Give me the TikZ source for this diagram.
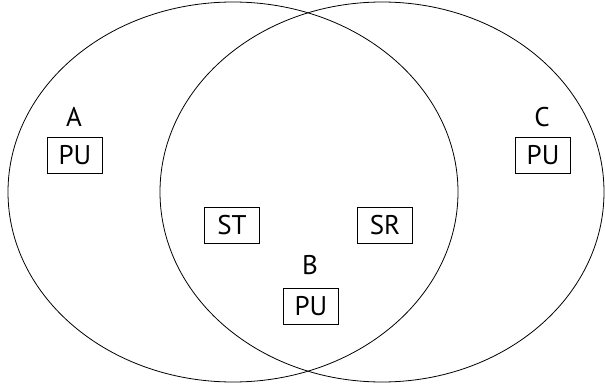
\documentclass[tikz,border=0pt]{standalone}
\usepackage{fontspec}
\setmainfont{PT Sans}
\usepackage{tikz}

\tikzset{
  unit/.style={draw, line width=0.7pt, minimum width=55pt, minimum height=36pt, inner sep=0pt, font=\fontsize{27}{30}\selectfont},
  tag/.style={inner sep=0pt, font=\fontsize{27}{30}\selectfont}
}

\begin{document}
\begin{tikzpicture}[x=1pt, y=-1pt]

            \useasboundingbox (0,0) rectangle (605,385);

            \draw [line width=0.8pt] (233,192) ellipse (225pt and 190pt);
            \draw [line width=0.8pt] (382,192) ellipse (222pt and 190pt);

            \node [tag] (labA) at (74,117) {A};
            \node [unit] (puA) at (75,155) {PU};

            \node [unit] (st) at (232,225) {ST};
            \node [unit] (sr) at (385,225) {SR};

            \node [tag] (labB) at (310,265) {B};
            \node [unit] (puB) at (311,306) {PU};

            \node [tag] (labC) at (542,117) {C};
            \node [unit] (puC) at (543,155) {PU};

\end{tikzpicture}
\end{document}
